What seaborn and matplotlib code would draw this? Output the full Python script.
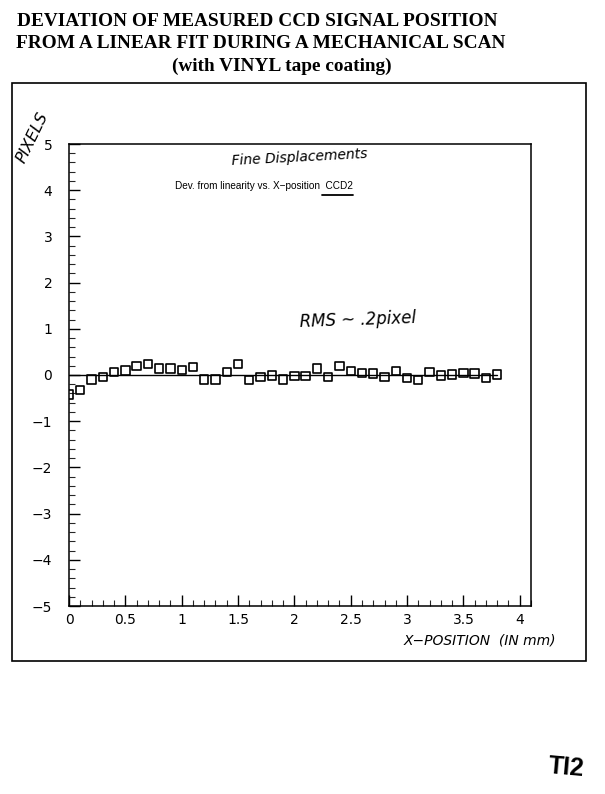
import matplotlib
matplotlib.use("Agg")
import matplotlib.pyplot as plt
from matplotlib.patches import Rectangle
from matplotlib.ticker import MultipleLocator
import seaborn as sns
import pandas as pd

# ---- data ----
x_pos = [0.0, 0.1, 0.2, 0.3, 0.4, 0.5, 0.6, 0.7, 0.8, 0.9,
         1.0, 1.1, 1.2, 1.3, 1.4, 1.5, 1.6, 1.7, 1.8, 1.9,
         2.0, 2.1, 2.2, 2.3, 2.4, 2.5, 2.6, 2.7, 2.8, 2.9,
         3.0, 3.1, 3.2, 3.3, 3.4, 3.5, 3.6, 3.7, 3.8]
deviation = [-0.42, -0.32, -0.10, -0.04, 0.07, 0.10, 0.19, 0.24, 0.14, 0.14,
             0.11, 0.18, -0.10, -0.10, 0.06, 0.24, -0.11, -0.05, -0.01, -0.10,
             -0.02, -0.02, 0.14, -0.05, 0.19, 0.09, 0.05, 0.03, -0.04, 0.09,
             -0.07, -0.11, 0.06, -0.01, 0.01, 0.04, 0.03, -0.06, 0.01]
fit_x = [0.0, 3.8]
fit_y = [0.0, 0.0]
x_ticks = [0, 0.5, 1, 1.5, 2, 2.5, 3, 3.5, 4]
x_tick_labels = ["0", "0.5", "1", "1.5", "2", "2.5", "3", "3.5", "4"]
y_ticks = [-5, -4, -3, -2, -1, 0, 1, 2, 3, 4, 5]
y_tick_labels = ["\u22125", "\u22124", "\u22123", "\u22122", "\u22121", "0", "1", "2", "3", "4", "5"]

title_lines = ["DEVIATION OF MEASURED CCD SIGNAL POSITION",
               "FROM A LINEAR FIT DURING A MECHANICAL SCAN",
               "(with VINYL tape coating)"]

sns.set_theme(style="white")
plt.rcParams['font.family'] = ['DejaVu Sans']
plt.rcParams['text.color'] = 'black'

W, H = 605, 794
fig = plt.figure(figsize=(W / 100, H / 100), dpi=100)
fig.patch.set_facecolor("white")

def fx(px):
    return px / W

def fy(py):
    return 1 - py / H

# outer frame
fig.add_artist(Rectangle((fx(12), fy(661)), fx(586) - fx(12), fy(83) - fy(661),
                         transform=fig.transFigure, fill=False, edgecolor="black", lw=1.2))

ax = fig.add_axes([fx(69), fy(606), fx(531) - fx(69), fy(144) - fy(606)])

df = pd.DataFrame({"x": x_pos, "y": deviation})
fit_df = pd.DataFrame({"x": fit_x, "y": fit_y})
sns.lineplot(data=fit_df, x="x", y="y", ax=ax, color="black", lw=1.0)
sns.scatterplot(data=df, x="x", y="y", ax=ax, marker="s", s=36,
                facecolor="none", edgecolor="black", linewidth=1.2, zorder=3)

ax.set_xlim(0, 4.1)
ax.set_ylim(-5, 5)
ax.set_xticks(x_ticks)
ax.set_xticklabels(x_tick_labels)
ax.set_yticks(y_ticks)
ax.set_yticklabels(y_tick_labels)
ax.xaxis.set_minor_locator(MultipleLocator(0.1))
ax.yaxis.set_minor_locator(MultipleLocator(0.2))
ax.tick_params(axis="both", which="major", direction="in", length=8, width=1,
               labelsize=10, colors="black", bottom=True, left=True, top=False, right=False)
ax.tick_params(axis="both", which="minor", direction="in", length=4, width=0.8,
               bottom=True, left=True, top=False, right=False)
ax.tick_params(axis="x", pad=5)
ax.tick_params(axis="y", pad=12)
ax.set_xlabel("")
ax.set_ylabel("")
for sp in ax.spines.values():
    sp.set_color("black")
    sp.set_linewidth(1.1)
ax.set_facecolor("white")

# titles
serif = ["Liberation Serif", "DejaVu Serif"]
fig.text(fx(257), fy(22), title_lines[0], ha="center", va="center", family=serif,
         fontweight="bold", fontsize=13.9, color="black")
fig.text(fx(261), fy(44), title_lines[1], ha="center", va="center", family=serif,
         fontweight="bold", fontsize=13.9, color="black")
fig.text(fx(282), fy(66), title_lines[2], ha="center", va="center", family=serif,
         fontweight="bold", fontsize=13.9, color="black")

hand = ["DejaVu Sans"]
fig.text(fx(300), fy(157), "Fine Displacements", ha="center", va="center",
         family=hand, style="italic", fontsize=10, rotation=3, color="black")
fig.text(fx(264), fy(186), "Dev. from linearity vs. X\u2212position  CCD2", ha="center",
         va="center", family=["Liberation Sans", "DejaVu Sans"], fontsize=7.2, color="black")
fig.add_artist(plt.Line2D([fx(322), fx(353)], [fy(195), fy(195)], color="black", lw=1.3))
fig.text(fx(358), fy(320), "RMS ~ .2pixel", ha="center", va="center",
         family=hand, style="italic", fontsize=12, rotation=2, color="black")
fig.text(fx(32), fy(138), "PIXELS", ha="center", va="center", family=hand,
         style="italic", fontsize=11.5, rotation=64, color="black")
fig.text(fx(480), fy(641), "X\u2212POSITION  (IN mm)", ha="center", va="center",
         family=hand, style="italic", fontsize=10, color="black")
fig.text(fx(566), fy(768), "TI2", ha="center", va="center",
         family=["Liberation Sans", "DejaVu Sans"], fontweight="bold", fontsize=18,
         rotation=-5, color="black")

fig.savefig("out.png", dpi=100, facecolor="white")
